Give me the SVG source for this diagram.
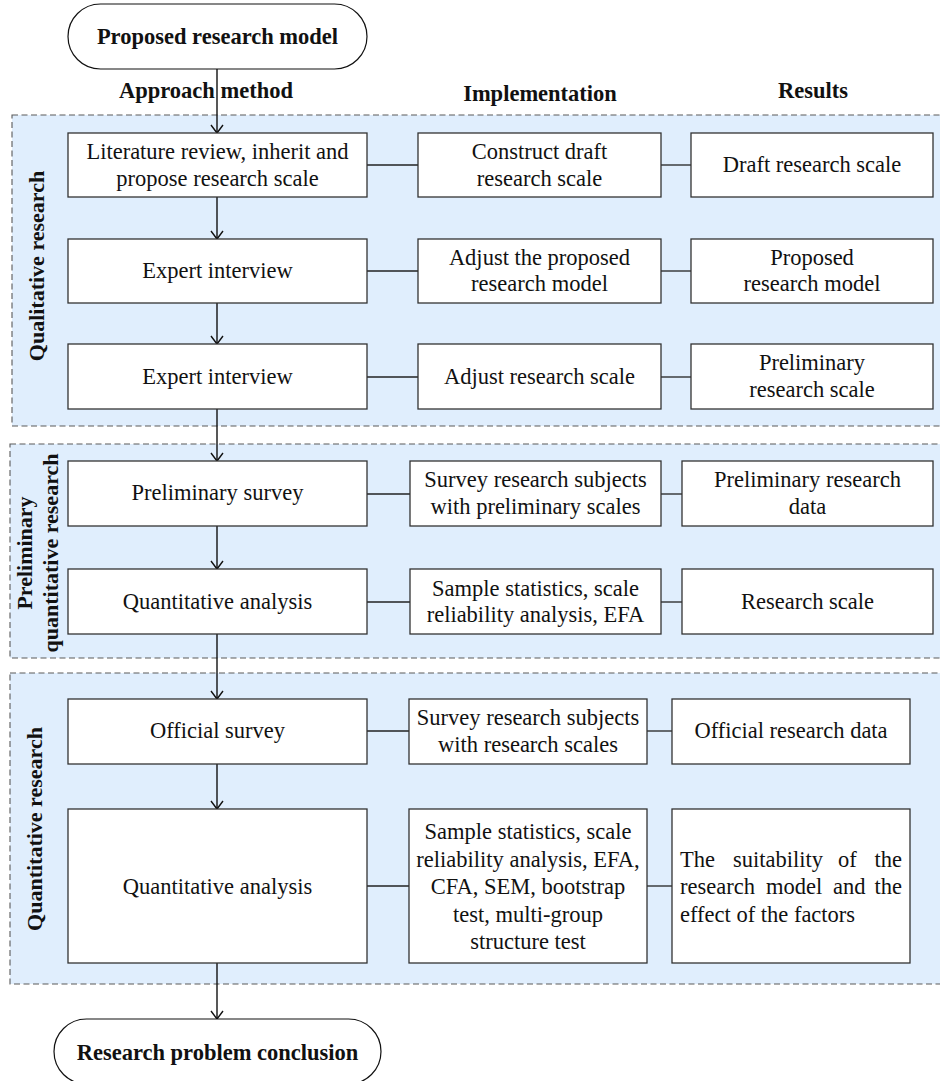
<svg xmlns="http://www.w3.org/2000/svg" width="940" height="1081" viewBox="0 0 940 1081">
<style>
.sec{fill:#e0eefd;stroke:#5a5a5a;stroke-width:1.1;stroke-dasharray:6,3.5}
.box{fill:#fff;stroke:#333;stroke-width:1.3}
.term{fill:#fff;stroke:#111;stroke-width:1.2}
.t{font-family:"Liberation Serif","Times New Roman",serif;font-size:22.5px;fill:#111;text-anchor:middle}
.l{font-family:"Liberation Serif","Times New Roman",serif;font-size:22.5px;fill:#111}
.b{font-family:"Liberation Serif","Times New Roman",serif;font-size:22.5px;font-weight:bold;fill:#111;text-anchor:middle}
.v{font-family:"Liberation Serif","Times New Roman",serif;font-size:22px;font-weight:bold;fill:#111;text-anchor:middle}
.c{stroke:#222;stroke-width:1.3;fill:none}
.a{stroke:#111;stroke-width:1.4;fill:none}
</style>
<defs>
<marker id="arr" markerWidth="14" markerHeight="12" refX="7" refY="9" orient="0" markerUnits="userSpaceOnUse" viewBox="0 0 14 12">
<path d="M1,1 L7,9 L13,1" fill="none" stroke="#111" stroke-width="1.4"/>
</marker>
</defs>

<g id="sections">
<rect class="sec" x="12" y="115" width="940" height="311"/>
<rect class="sec" x="10" y="444" width="942" height="214"/>
<rect class="sec" x="10" y="673" width="942" height="311"/>
<text class="v" transform="translate(44,266) rotate(-90)">Qualitative research</text>
<text class="v" transform="translate(32,553) rotate(-90)">Preliminary</text>
<text class="v" transform="translate(58,553) rotate(-90)">quantitative research</text>
<text class="v" transform="translate(42,829) rotate(-90)">Quantitative research</text>
</g>

<g id="headers">
<text class="b" x="206" y="98">Approach method</text>
<text class="b" x="540" y="101">Implementation</text>
<text class="b" x="813" y="98">Results</text>
</g>

<g id="connectors">
<line class="a" x1="217" y1="69" x2="217" y2="133" marker-end="url(#arr)"/>
<line class="a" x1="217" y1="197" x2="217" y2="239" marker-end="url(#arr)"/>
<line class="a" x1="217" y1="303" x2="217" y2="344" marker-end="url(#arr)"/>
<line class="a" x1="217" y1="409" x2="217" y2="461" marker-end="url(#arr)"/>
<line class="a" x1="217" y1="526" x2="217" y2="569" marker-end="url(#arr)"/>
<line class="a" x1="217" y1="634" x2="217" y2="699" marker-end="url(#arr)"/>
<line class="a" x1="217" y1="764" x2="217" y2="809" marker-end="url(#arr)"/>
<line class="a" x1="217" y1="963" x2="217" y2="1019" marker-end="url(#arr)"/>
<line class="c" x1="367" y1="165" x2="418" y2="165"/>
<line class="c" x1="661" y1="165" x2="691" y2="165"/>
<line class="c" x1="367" y1="271" x2="418" y2="271"/>
<line class="c" x1="661" y1="271" x2="691" y2="271"/>
<line class="c" x1="367" y1="377" x2="418" y2="377"/>
<line class="c" x1="661" y1="377" x2="691" y2="377"/>
<line class="c" x1="367" y1="494" x2="410" y2="494"/>
<line class="c" x1="661" y1="494" x2="682" y2="494"/>
<line class="c" x1="367" y1="602" x2="410" y2="602"/>
<line class="c" x1="661" y1="602" x2="682" y2="602"/>
<line class="c" x1="367" y1="731" x2="409" y2="731"/>
<line class="c" x1="647" y1="731" x2="672" y2="731"/>
<line class="c" x1="367" y1="886" x2="409" y2="886"/>
<line class="c" x1="647" y1="886" x2="672" y2="886"/>
</g>

<g id="start">
<rect class="term" x="68" y="4" width="299" height="65" rx="32.5"/>
<text class="b" x="217.5" y="44">Proposed research model</text>
</g>
<g id="end">
<rect class="term" x="54" y="1019" width="327" height="65" rx="32.5"/>
<text class="b" x="217.5" y="1060">Research problem conclusion</text>
</g>

<g id="r1a"><rect class="box" x="68" y="133" width="299" height="64"/>
<text class="t" x="217.5" y="159">Literature review, inherit and</text>
<text class="t" x="217.5" y="186">propose research scale</text></g>
<g id="r1b"><rect class="box" x="418" y="133" width="243" height="64"/>
<text class="t" x="539.5" y="159">Construct draft</text>
<text class="t" x="539.5" y="186">research scale</text></g>
<g id="r1c"><rect class="box" x="691" y="133" width="242" height="64"/>
<text class="t" x="812" y="172">Draft research scale</text></g>

<g id="r2a"><rect class="box" x="68" y="239" width="299" height="64"/>
<text class="t" x="217.5" y="278">Expert interview</text></g>
<g id="r2b"><rect class="box" x="418" y="239" width="243" height="64"/>
<text class="t" x="539.5" y="265">Adjust the proposed</text>
<text class="t" x="539.5" y="291">research model</text></g>
<g id="r2c"><rect class="box" x="691" y="239" width="242" height="64"/>
<text class="t" x="812" y="265">Proposed</text>
<text class="t" x="812" y="291">research model</text></g>

<g id="r3a"><rect class="box" x="68" y="344" width="299" height="65"/>
<text class="t" x="217.5" y="384">Expert interview</text></g>
<g id="r3b"><rect class="box" x="418" y="344" width="243" height="65"/>
<text class="t" x="539.5" y="384">Adjust research scale</text></g>
<g id="r3c"><rect class="box" x="691" y="344" width="242" height="65"/>
<text class="t" x="812" y="370">Preliminary</text>
<text class="t" x="812" y="397">research scale</text></g>

<g id="r4a"><rect class="box" x="68" y="461" width="299" height="65"/>
<text class="t" x="217.5" y="500">Preliminary survey</text></g>
<g id="r4b"><rect class="box" x="410" y="461" width="251" height="65"/>
<text class="t" x="535.5" y="487">Survey research subjects</text>
<text class="t" x="535.5" y="514">with preliminary scales</text></g>
<g id="r4c"><rect class="box" x="682" y="461" width="251" height="65"/>
<text class="t" x="807.5" y="487">Preliminary research</text>
<text class="t" x="807.5" y="514">data</text></g>

<g id="r5a"><rect class="box" x="68" y="569" width="299" height="65"/>
<text class="t" x="217.5" y="609">Quantitative analysis</text></g>
<g id="r5b"><rect class="box" x="410" y="569" width="251" height="65"/>
<text class="t" x="535.5" y="596">Sample statistics, scale</text>
<text class="t" x="535.5" y="622">reliability analysis, EFA</text></g>
<g id="r5c"><rect class="box" x="682" y="569" width="251" height="65"/>
<text class="t" x="807.5" y="609">Research scale</text></g>

<g id="r6a"><rect class="box" x="68" y="699" width="299" height="65"/>
<text class="t" x="217.5" y="738">Official survey</text></g>
<g id="r6b"><rect class="box" x="409" y="699" width="238" height="65"/>
<text class="t" x="528" y="725">Survey research subjects</text>
<text class="t" x="528" y="752">with research scales</text></g>
<g id="r6c"><rect class="box" x="672" y="699" width="238" height="65"/>
<text class="t" x="791" y="738">Official research data</text></g>

<g id="r7a"><rect class="box" x="68" y="809" width="299" height="154"/>
<text class="t" x="217.5" y="894">Quantitative analysis</text></g>
<g id="r7b"><rect class="box" x="409" y="809" width="238" height="154"/>
<text class="t" x="528" y="839">Sample statistics, scale</text>
<text class="t" x="528" y="867">reliability analysis, EFA,</text>
<text class="t" x="528" y="894">CFA, SEM, bootstrap</text>
<text class="t" x="528" y="922">test, multi-group</text>
<text class="t" x="528" y="949">structure test</text></g>
<g id="r7c"><rect class="box" x="672" y="809" width="238" height="154"/>
<text class="l" x="680" y="867">The</text>
<text class="l" x="733" y="867">suitability</text>
<text class="l" x="838" y="867">of</text>
<text class="l" x="902" y="867" text-anchor="end">the</text>
<text class="l" x="680" y="894">research</text>
<text class="l" x="766" y="894">model</text>
<text class="l" x="833" y="894">and</text>
<text class="l" x="902" y="894" text-anchor="end">the</text>
<text class="l" x="680" y="922">effect of the factors</text></g>
</svg>
